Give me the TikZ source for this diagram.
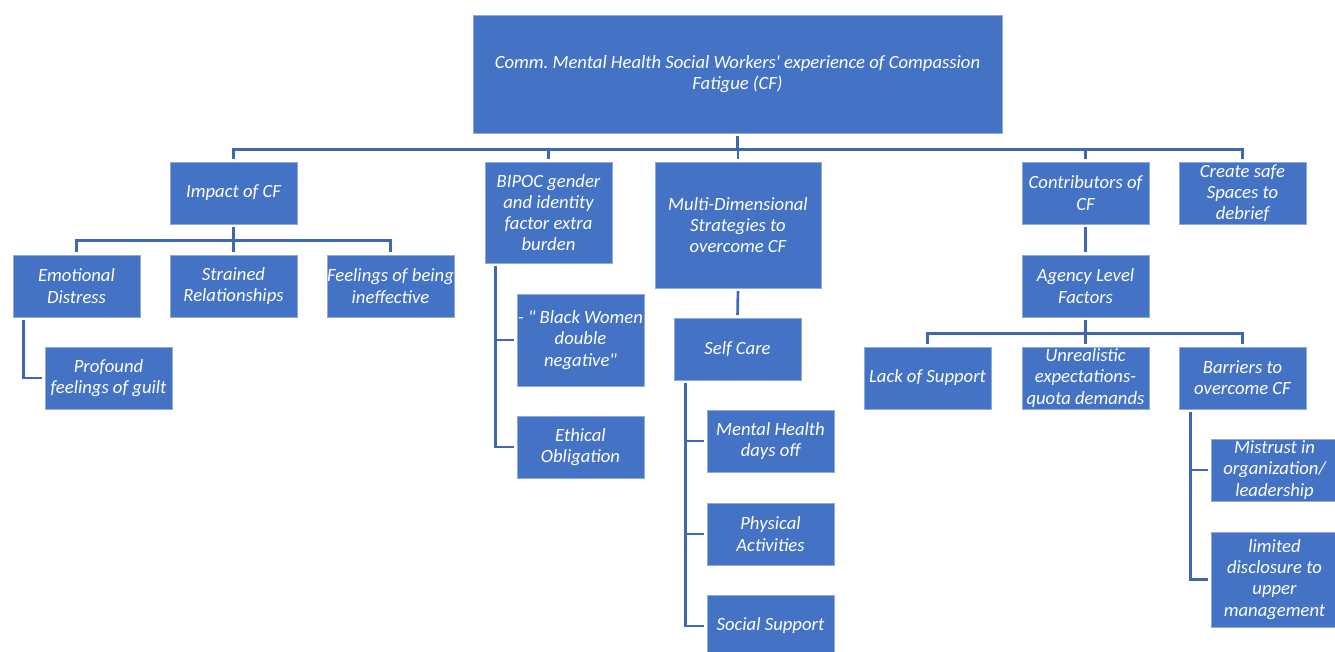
\documentclass[tikz,border=0pt]{standalone}
\usepackage{fontspec}
\setmainfont{Carlito}[Ligatures=TeXOff]
\frenchspacing
\definecolor{boxblue}{HTML}{4472C4}
\definecolor{edgeblue}{HTML}{8FAADC}
\definecolor{linkblue}{HTML}{3F68B4}
\tikzset{
  box/.style={fill=boxblue, draw=edgeblue, line width=0.6pt, text=white,
    font=\fontsize{14pt}{15.9pt}\selectfont\itshape, align=center, inner sep=0pt,
    minimum width=95.25pt, minimum height=46.5pt},
  conn/.style={draw=linkblue, line width=2pt, shorten <=2pt, shorten >=2pt},
}
\begin{document}
\begin{tikzpicture}[x=0.75pt,y=-0.75pt]
\useasboundingbox (0,0) rectangle (1335,652);
\clip (0,0) rectangle (1335,652);

% root
\node[box, minimum width=396.75pt, minimum height=88.5pt] (root) at (737.5,74)
  {Comm. Mental Health Social Workers' experience of Compassion\\Fatigue (CF)};

% first level
\node[box] (impact) at (233.5,193) {Impact of CF};
\node[box, minimum height=75.75pt] (bipoc) at (548.5,212.5)
  {BIPOC gender\\and identity\\factor extra\\burden};
\node[box, minimum width=124.5pt, minimum height=94.5pt] (multi) at (738,225)
  {Multi-Dimensional\\Strategies to\\overcome CF};
\node[box] (contrib) at (1085.5,193) {Contributors of\\CF};
\node[box] (safe) at (1242.5,193) {Create safe\\Spaces to\\debrief};

% impact branch
\node[box] (emo) at (76.5,286) {Emotional\\Distress};
\node[box] (strained) at (233.5,286) {Strained\\Relationships};
\node[box] (ineff) at (390.5,286) {Feelings of being\\ineffective};
\node[box] (guilt) at (108.5,378) {Profound\\feelings of guilt};

% identity branch
\node[box, minimum height=69pt] (black) at (580.5,340) {- " Black Women\\double\\negative"};
\node[box] (ethical) at (580.5,447) {Ethical\\Obligation};

% strategies branch
\node[box] (selfcare) at (737.5,349) {Self Care};
\node[box] (mhdays) at (770.5,441) {Mental Health\\days off};
\node[box] (physical) at (770.5,534) {Physical\\Activities};
\node[box] (social) at (770.5,626) {Social Support};

% contributors branch
\node[box] (agency) at (1085.5,286) {Agency Level\\Factors};
\node[box] (lack) at (927.5,378) {Lack of Support};
\node[box] (unreal) at (1085.5,378) {Unrealistic\\expectations-\\quota demands};
\node[box] (barriers) at (1242.5,378) {Barriers to\\overcome CF};
\node[box] (mistrust) at (1274.5,470) {Mistrust in\\organization/\\leadership};
\node[box, minimum height=71.25pt] (limited) at (1274.5,579.5)
  {limited\\disclosure to\\upper\\management};

% tree connectors
\foreach \c in {impact,bipoc,multi,contrib,safe}
  \draw[conn] (root.south) -- ++(0,16) -| (\c.north);
\foreach \c in {emo,strained,ineff}
  \draw[conn] (impact.south) -- ++(0,16) -| (\c.north);
\foreach \c in {lack,unreal,barriers}
  \draw[conn] (agency.south) -- ++(0,16) -| (\c.north);
\draw[conn] (multi.south) -- (selfcare.north);
\draw[conn] (contrib.south) -- (agency.north);

% side connectors
\draw[conn] ([xshift=8.4pt]emo.south west) |- (guilt.west);
\foreach \c in {black,ethical}
  \draw[conn] ([xshift=8.4pt]bipoc.south west) |- (\c.west);
\foreach \c in {mhdays,physical,social}
  \draw[conn] ([xshift=9pt]selfcare.south west) |- (\c.west);
\foreach \c in {mistrust,limited}
  \draw[conn] ([xshift=9pt]barriers.south west) |- (\c.west);
\end{tikzpicture}
\end{document}
